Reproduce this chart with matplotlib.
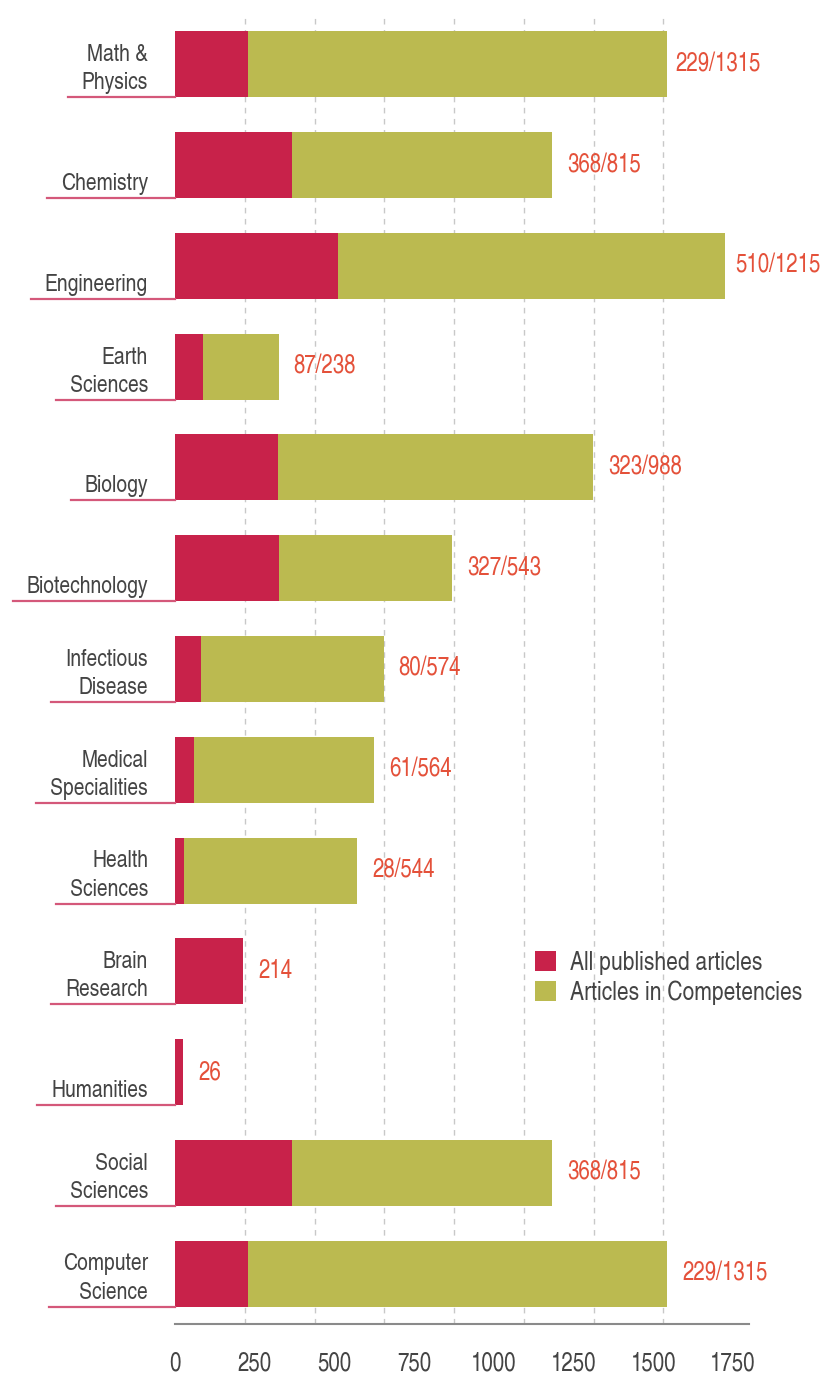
import numpy as np
import matplotlib
matplotlib.use("Agg")
import matplotlib.pyplot as plt
from matplotlib.patches import Patch
from matplotlib.lines import Line2D
import matplotlib.transforms as mtransforms

# data
categories = ["Math &\nPhysics", "Chemistry", "Engineering", "Earth\nSciences",
              "Biology", "Biotechnology", "Infectious\nDisease", "Medical\nSpecialities",
              "Health\nSciences", "Brain\nResearch", "Humanities", "Social\nSciences",
              "Computer\nScience"]
all_published = [229, 368, 510, 87, 323, 327, 80, 61, 28, 214, 26, 368, 229]
in_competencies = [1315, 815, 1215, 238, 988, 543, 574, 564, 544, 0, 0, 815, 1315]
tick_values = [0, 250, 500, 750, 1000, 1250, 1500, 1750]

RED = "#C8224A"
GREEN = "#BBBA50"
LABEL_RED = "#E4513A"
TEXT = "#444444"

plt.rcParams['font.family'] = ['TeX Gyre Heros Cn', 'Roboto Condensed', 'DejaVu Sans']

W, H = 826, 1376
fig = plt.figure(figsize=(W / 100, H / 100), dpi=100)
# axes box in pixels: x 175..749, y 14..1324 (from top)
ax = fig.add_axes([175 / W, (H - 1324) / H, (749 - 175) / W, (1324 - 14) / H])

n = len(categories)
y = np.arange(n)
bar_h = 0.655

ax.barh(y, all_published, height=bar_h, color=RED, zorder=3)
ax.barh(y, in_competencies, left=all_published, height=bar_h, color=GREEN, zorder=3)

ax.set_xlim(0, 1800)
ax.set_ylim(n - 0.5, -0.5)

# ticks (labels) and decorative dashed grid
ax.set_xticks(tick_values)
ax.set_xticklabels([str(v) for v in tick_values])
ax.set_xticks(np.linspace(0, 1750, 9), minor=True)
ax.tick_params(axis='x', which='both', length=0, pad=20, labelsize=18, labelcolor=TEXT)
ax.set_yticks([])
ax.grid(False)
ax.grid(True, axis='x', which='minor', color='#C8C8C8', linestyle=(0, (4, 4)), linewidth=1)
ax.set_axisbelow(True)
for s in ['top', 'right', 'left']:
    ax.spines[s].set_visible(False)
ax.spines['bottom'].set_color('#8A8A8A')
ax.spines['bottom'].set_linewidth(1.5)

# category labels
ytrans = ax.get_yaxis_transform()
lab_trans = mtransforms.offset_copy(ytrans, fig=fig, x=-27, y=3, units='dots')
texts = []
for i, c in enumerate(categories):
    t = ax.text(0, i + bar_h / 2, c, transform=lab_trans, ha='right', va='bottom',
                fontsize=17, color=TEXT, linespacing=1.36, clip_on=False)
    texts.append(t)

# value labels
pads = [8, 15, 10, 15, 15, 15, 15, 15, 15, 15, 15, 15, 15]
for i in range(n):
    total = all_published[i] + in_competencies[i]
    if in_competencies[i] > 0:
        s = f"{all_published[i]}/{in_competencies[i]}"
    else:
        s = f"{all_published[i]}"
    tr = mtransforms.offset_copy(ax.transData, fig=fig, x=pads[i], y=0, units='dots')
    ax.text(total, i, s, transform=tr, ha='left', va='center', fontsize=18,
            color=LABEL_RED, clip_on=False)

# legend
handles = [Patch(facecolor=RED, label='All published articles'),
           Patch(facecolor=GREEN, label='Articles in Competencies')]
ax.legend(handles=handles, loc='upper left', bbox_to_anchor=(535 / W, 1 - 951 / H),
          bbox_transform=fig.transFigure, frameon=False, fontsize=18.5,
          handlelength=0.8, handleheight=0.8, handletextpad=0.55,
          labelspacing=0.2, borderpad=0, borderaxespad=0, labelcolor=TEXT)

# underline under each category label, from just left of the text to the axis
fig.canvas.draw()
renderer = fig.canvas.get_renderer()
inv = ax.transAxes.inverted()
for i, t in enumerate(texts):
    bb = t.get_window_extent(renderer)
    x0 = inv.transform((bb.x0 - 14, 0))[0]
    ax.add_line(Line2D([x0, 0], [i + bar_h / 2, i + bar_h / 2], transform=ytrans,
                       color='#D4587A', linewidth=1.6, clip_on=False, zorder=4))

fig.savefig("out.png", dpi=100)
